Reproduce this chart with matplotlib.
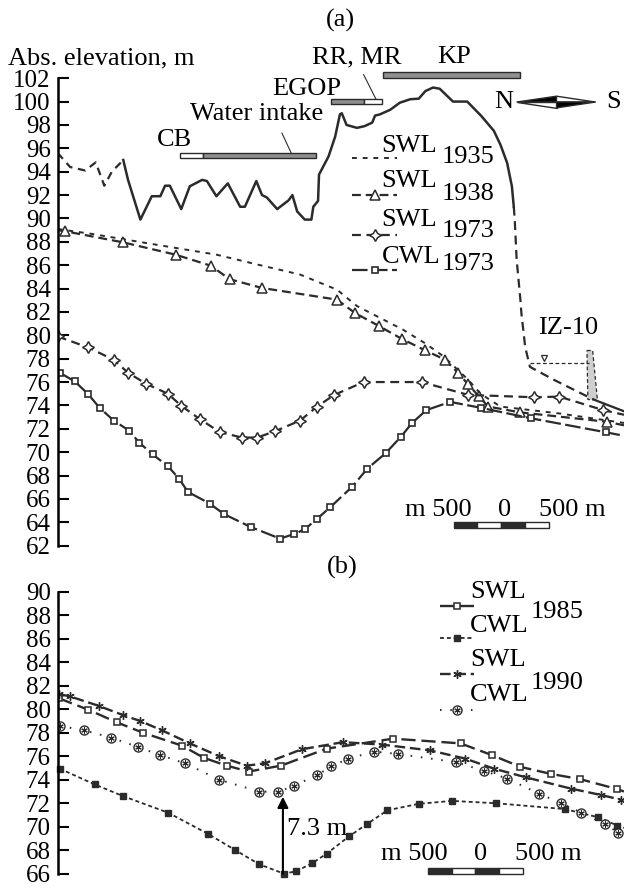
import matplotlib
matplotlib.use("Agg")
import matplotlib.pyplot as plt
from matplotlib.patches import Rectangle, Polygon

plt.rcParams['font.family'] = ['Liberation Serif', 'DejaVu Serif']
plt.rcParams['font.size'] = 19

INK = '#2b2b2b'
BAR_GRAY = '#8f8f8f'

# ---------------- panel (a) : distance along profile (km), elevation (m) ----------------
# ground surface, split where the line style changes
relief_w_x = [0.00, 0.13, 0.29, 0.40, 0.49, 0.57, 0.69]
relief_w_y = [95.6, 94.4, 94.1, 94.8, 92.8, 94.0, 95.0]
relief_x = [0.69, 0.74, 0.87, 0.99, 1.08, 1.13, 1.18, 1.30, 1.39, 1.52, 1.57, 1.67, 1.79,
            1.92, 1.97, 2.09, 2.15, 2.20, 2.31, 2.43, 2.47, 2.52, 2.60, 2.67, 2.69, 2.74,
            2.75, 2.85, 2.92, 2.97, 2.99, 3.04, 3.15, 3.23, 3.31, 3.34, 3.39, 3.50, 3.60,
            3.71, 3.80, 3.87, 3.95, 4.02, 4.16, 4.31, 4.46, 4.59, 4.66, 4.73, 4.78, 4.80]
relief_y = [95.0, 93.3, 89.9, 91.9, 91.9, 92.8, 92.8, 90.8, 92.75, 93.3, 93.2, 91.9, 93.0,
            91.0, 91.0, 93.2, 92.0, 91.8, 90.8, 91.55, 92.0, 90.6, 89.9, 89.9, 91.0, 91.5,
            93.75, 95.3, 97.0, 98.9, 99.0, 98.0, 97.75, 97.9, 98.2, 98.8, 98.9, 99.3, 99.9,
            100.2, 100.25, 100.9, 101.2, 101.1, 100.0, 100.0, 98.75, 97.5, 96.3, 94.75, 92.75, 91.0]
relief_e_x = [4.80, 4.81, 4.83, 4.87, 4.88, 4.92, 4.97, 5.22, 5.64]
relief_e_y = [91.0, 89.9, 86.5, 83.0, 81.9, 79.0, 77.3, 76.2, 74.5]
relief_end_x = [5.64, 5.96]
relief_end_y = [74.5, 73.5]

swl1935_x = [0.00, 0.08, 0.34, 1.15, 1.67, 2.13, 2.55, 2.94, 3.15, 3.39, 3.63, 3.87, 4.06,
             4.32, 4.45, 4.66, 5.29, 5.96]
swl1935_y = [89.1, 89.0, 88.7, 87.6, 86.9, 86.0, 85.2, 83.9, 82.5, 81.5, 80.5, 79.3, 78.2,
             76.2, 75.0, 73.9, 73.3, 72.5]

swl1938_x = [0.00, 0.08, 0.69, 1.24, 1.61, 1.81, 2.15, 2.94, 3.13, 3.38, 3.62, 3.87, 4.08,
             4.21, 4.32, 4.43, 4.53, 4.87, 5.78, 5.96]
swl1938_y = [89.0, 88.9, 87.95, 86.9, 85.96, 84.8, 84.05, 83.05, 81.9, 80.8, 79.7, 78.7, 77.9,
             76.8, 75.8, 74.8, 73.9, 73.4, 72.6, 72.3]

swl1973_x = [0.00, 0.32, 0.59, 0.74, 0.93, 1.16, 1.30, 1.50, 1.71, 1.94, 2.10, 2.29, 2.55,
             2.73, 2.91, 3.22, 3.83, 4.32, 5.01, 5.28, 5.74, 5.96]
swl1973_y = [79.9, 78.96, 77.9, 76.8, 75.85, 75.0, 73.97, 72.8, 71.7, 71.25, 71.25, 71.8, 72.7,
             73.9, 74.9, 76.0, 76.0, 74.9, 74.7, 74.75, 73.6, 73.2]

cwl1973_x = [0.02, 0.18, 0.32, 0.44, 0.59, 0.75, 0.86, 1.00, 1.16, 1.28, 1.37, 1.60, 1.75,
             2.03, 2.34, 2.49, 2.60, 2.73, 2.87, 3.10, 3.26, 3.45, 3.61, 3.73, 3.88, 4.13,
             4.45, 4.98, 5.77, 5.96]
cwl1973_y = [76.8, 76.05, 74.97, 73.8, 72.7, 71.85, 70.8, 69.8, 68.8, 67.7, 66.6, 65.6, 64.7,
             63.6, 62.6, 63.0, 63.4, 64.3, 65.3, 67.05, 68.6, 69.9, 71.3, 72.5, 73.6, 74.3,
             73.8, 72.9, 71.7, 71.4]

# objects along the profile
zone_start = [1.29, 1.53, 2.88, 3.22, 3.42]
zone_end = [1.53, 2.72, 3.22, 3.41, 4.87]
zone_level = [95.38, 95.38, 100.0, 100.0, 102.27]
zone_fill = ['white', BAR_GRAY, BAR_GRAY, 'white', BAR_GRAY]

# well IZ-10
well_x = [5.57, 5.63, 5.68, 5.58]
well_y = [78.7, 78.7, 74.5, 74.5]
well_level = 77.67

# ---------------- panel (b) ----------------
swl1985_x = [0.01, 0.32, 0.62, 0.90, 1.31, 1.54, 1.78, 2.01, 2.35, 2.83, 3.53, 4.24, 4.57,
             4.87, 5.19, 5.50, 5.89, 5.96]
swl1985_y = [80.95, 79.97, 78.9, 78.0, 76.9, 75.86, 75.2, 74.7, 75.2, 76.65, 77.5, 77.1, 76.1,
             75.1, 74.5, 74.05, 73.2, 73.0]

cwl1985_x = [0.02, 0.39, 0.69, 1.16, 1.58, 1.87, 2.12, 2.38, 2.51, 2.68, 2.83, 3.07, 3.25,
             3.47, 3.80, 4.15, 4.61, 5.34, 5.69, 5.89, 5.96]
cwl1985_y = [74.95, 73.6, 72.6, 71.2, 69.4, 68.0, 66.8, 66.0, 66.2, 66.9, 67.7, 69.2, 70.2,
             71.4, 71.95, 72.2, 72.0, 71.5, 70.8, 70.1, 69.9]

swl1990_x = [0.01, 0.13, 0.43, 0.69, 0.87, 1.10, 1.39, 1.70, 1.99, 2.18, 2.57, 3.00, 3.41,
             3.92, 4.29, 4.59, 4.93, 5.40, 5.72, 5.93]
swl1990_y = [81.3, 81.1, 80.3, 79.5, 79.0, 78.2, 77.1, 76.0, 75.2, 75.4, 76.6, 77.2, 77.0,
             76.5, 75.8, 74.95, 74.2, 73.25, 72.7, 72.3]

cwl1990_x = [0.02, 0.28, 0.56, 0.84, 1.08, 1.34, 1.70, 2.12, 2.32, 2.49, 2.73, 2.88, 3.06,
             3.33, 3.58, 4.19, 4.49, 4.73, 5.07, 5.30, 5.51, 5.76, 5.90]
cwl1990_y = [78.6, 78.2, 77.6, 76.8, 76.1, 75.4, 74.0, 73.0, 72.96, 73.5, 74.4, 75.15, 75.8,
             76.4, 76.2, 75.5, 74.75, 74.1, 72.8, 72.0, 71.2, 70.2, 69.5]

drawdown_x = 2.37
drawdown_from = 66.0
drawdown_to = 72.55

# line styles
st1935 = dict(color=INK, lw=1.4, linestyle=(0, (2.5, 3)))
st1938 = dict(color=INK, lw=1.6, linestyle=(0, (4, 2.2)), marker='^', ms=6.5,
              mfc='white', mec=INK, mew=1.1)
st1973 = dict(color=INK, lw=1.6, linestyle=(0, (4, 2.5)), marker=(4, 1, 0), ms=8.5,
              mfc='white', mec=INK, mew=1.1)
stc1973 = dict(color=INK, lw=1.6, linestyle=(0, (7, 2)), marker='s', ms=5,
               mfc='white', mec=INK, mew=1.2)
st1985 = dict(color=INK, lw=1.7, linestyle=(0, (6, 2.5)), marker='s', ms=4.5,
              mfc='white', mec=INK, mew=1.1)
stc1985 = dict(color=INK, lw=1.3, linestyle=(0, (2.2, 1.6)), marker='s', ms=3.8,
               mfc=INK, mec=INK)
st1990 = dict(color=INK, lw=1.7, linestyle=(0, (4.5, 2)), marker=(6, 2, 0), ms=6,
              mec=INK, mew=1.0)
stc1990 = dict(color=INK, lw=1.4, linestyle=(0, (0.8, 4.5)), marker='o', ms=6.5,
               mfc='white', mec=INK, mew=1.0)
star_in = dict(linestyle='none', marker=(6, 2, 0), ms=4.5, mec=INK, mew=0.8)


def style_axis(ax, lo, hi, ylim):
    ax.set_xlim(0, 5.96)
    ax.set_ylim(*ylim)
    for s in ('top', 'right', 'bottom'):
        ax.spines[s].set_visible(False)
    ax.spines['left'].set_bounds(lo, hi)
    ax.spines['left'].set_linewidth(1.8)
    ax.set_xticks([])
    ax.set_yticks(range(lo, hi + 1, 2))
    ax.tick_params(axis='y', direction='in', length=8, width=1.5, pad=5, labelsize=18)
    ax.patch.set_visible(False)


def scale_bar(ax, x0, y, text_y, mleft, zero, mright):
    seg = 0.25
    for i in range(4):
        ax.add_patch(Rectangle((x0 + i * seg, y - 0.25), seg, 0.5, lw=1.0, edgecolor=INK,
                               facecolor=INK if i % 2 == 0 else 'white'))
    ax.text(mleft, text_y, 'm 500', ha='right', va='center')
    ax.text(zero, text_y, '0', ha='center', va='center')
    ax.text(mright, text_y, '500 m', ha='left', va='center')


def legend_row(ax, x0, x1, y, style, extra=None):
    line_kw = {k: v for k, v in style.items() if not k.startswith('m')}
    mark_kw = {k: v for k, v in style.items() if k not in ('lw', 'linestyle')}
    ax.plot([x0, x1], [y, y], **line_kw)
    ax.plot([(x0 + x1) / 2], [y], linestyle='none', **mark_kw)
    if extra:
        ax.plot([(x0 + x1) / 2], [y], **extra)


fig = plt.figure(figsize=(6.24, 8.88), dpi=100)
ax_a = fig.add_axes([0.0925, 0.375, 0.9075, 0.5805])
ax_b = fig.add_axes([0.0925, 0.0102, 0.9075, 0.3344])
style_axis(ax_a, 62, 102, (61.2, 105.31))
style_axis(ax_b, 66, 90, (65.55, 90.85))

# ---- panel (a) ----
ax_a.plot(relief_w_x, relief_w_y, color=INK, lw=1.6, linestyle=(0, (3.5, 2.5)))
ax_a.plot(relief_x, relief_y, color=INK, lw=1.8)
ax_a.plot(relief_e_x, relief_e_y, color=INK, lw=1.6, linestyle=(0, (4, 2.5)))
ax_a.plot(relief_end_x, relief_end_y, color=INK, lw=1.6)

ax_a.plot(swl1935_x, swl1935_y, **st1935)
ax_a.plot(swl1938_x, swl1938_y, markevery=slice(1, -1), **st1938)
ax_a.plot(swl1973_x, swl1973_y, markevery=slice(0, -1), **st1973)
ax_a.plot(cwl1973_x, cwl1973_y, markevery=slice(0, -1), **stc1973)

for x0, x1, lev, fc in zip(zone_start, zone_end, zone_level, zone_fill):
    ax_a.add_patch(Rectangle((x0, lev - 0.25), x1 - x0, 0.5, facecolor=fc,
                             edgecolor=INK, lw=1.0, clip_on=False))

ax_a.text(1.23, 96.75, 'CB', ha='center', va='center')
ax_a.text(2.09, 98.9, 'Water intake', ha='center', va='center')
ax_a.plot([2.36, 2.46], [97.3, 95.55], color=INK, lw=0.8)
ax_a.text(2.62, 101.1, 'EGOP', ha='center', va='center')
ax_a.text(3.15, 103.8, 'RR, MR', ha='center', va='center')
ax_a.plot([3.22, 3.35], [102.3, 100.2], color=INK, lw=0.8)
ax_a.text(4.17, 103.8, 'KP', ha='center', va='center')

# north-south pointer
lt, rt, cx, cy, hh = 4.83, 5.66, 5.25, 99.96, 0.5
for pts, fc in [([(lt, cy), (cx, cy + hh), (cx, cy)], 'black'),
                ([(lt, cy), (cx, cy), (cx, cy - hh)], 'white'),
                ([(cx, cy + hh), (rt, cy), (cx, cy)], 'white'),
                ([(cx, cy), (rt, cy), (cx, cy - hh)], 'black')]:
    ax_a.add_patch(Polygon(pts, closed=True, facecolor=fc, edgecolor=INK, lw=1.0))
ax_a.text(4.69, 99.96, 'N', ha='center', va='center')
ax_a.text(5.85, 99.96, 'S', ha='center', va='center')

# well IZ-10
ax_a.add_patch(Polygon(list(zip(well_x, well_y)), closed=True, facecolor='#cfcfcf',
                       edgecolor=INK, lw=0.9, linestyle=(0, (3, 2))))
ax_a.plot([4.97, 5.59], [well_level, well_level], color=INK, lw=0.9, linestyle=(0, (3, 2)))
ax_a.plot([5.12], [well_level + 0.35], marker='v', ms=5, mfc='white', mec=INK, mew=0.9)
ax_a.text(5.37, 80.6, 'IZ-10', ha='center', va='center')

# legend (a)
legend_row(ax_a, 3.10, 3.57, 95.18, st1935)
legend_row(ax_a, 3.10, 3.57, 92.04, st1938)
legend_row(ax_a, 3.10, 3.57, 88.6, st1973)
legend_row(ax_a, 3.10, 3.57, 85.6, stc1973)
for lab, yr, ty, yy in [('SWL', '1935', 96.24, 95.25), ('SWL', '1938', 93.24, 92.1),
                        ('SWL', '1973', 89.9, 88.9), ('CWL', '1973', 86.7, 86.1)]:
    ax_a.text(3.41, ty, lab, ha='left', va='center')
    ax_a.text(4.04, yy, yr, ha='left', va='center')

scale_bar(ax_a, 4.167, 63.77, 65.05, 4.356, 4.70, 5.07)

# ---- panel (b) ----
ax_b.plot(swl1985_x, swl1985_y, markevery=slice(0, -1), **st1985)
ax_b.plot(cwl1985_x, cwl1985_y, markevery=slice(0, -1), clip_on=False, **stc1985)
ax_b.plot(swl1990_x, swl1990_y, **st1990)
ax_b.plot(cwl1990_x, cwl1990_y, **stc1990)
ax_b.plot(cwl1990_x, cwl1990_y, **star_in)

ax_b.annotate('', xy=(drawdown_x, drawdown_to), xytext=(drawdown_x, drawdown_from),
              arrowprops=dict(arrowstyle='-|>', color='black', lw=1.5,
                              mutation_scale=16, shrinkA=0, shrinkB=0))
ax_b.text(2.41, 69.84, '7.3 m', ha='left', va='center')

legend_row(ax_b, 4.02, 4.38, 88.81, st1985)
legend_row(ax_b, 4.02, 4.38, 86.08, stc1985)
legend_row(ax_b, 4.02, 4.38, 82.99, st1990)
legend_row(ax_b, 4.02, 4.38, 79.92, stc1990, extra=star_in)
for lab, ty in [('SWL', 90.0), ('CWL', 87.1), ('SWL', 84.2), ('CWL', 81.23)]:
    ax_b.text(4.34, ty, lab, ha='left', va='center')
ax_b.text(4.98, 88.3, '1985', ha='left', va='center')
ax_b.text(4.98, 82.25, '1990', ha='left', va='center')

scale_bar(ax_b, 3.896, 66.19, 67.68, 4.105, 4.45, 4.81)

fig.text(8 / 624, 1 - 58 / 888, 'Abs. elevation, m', ha='left', va='center')
fig.text(340 / 624, 1 - 20 / 888, '(a)', ha='center', va='center')
fig.text(342 / 624, 1 - 567 / 888, '(b)', ha='center', va='center')

fig.savefig('out.png', dpi=100)
